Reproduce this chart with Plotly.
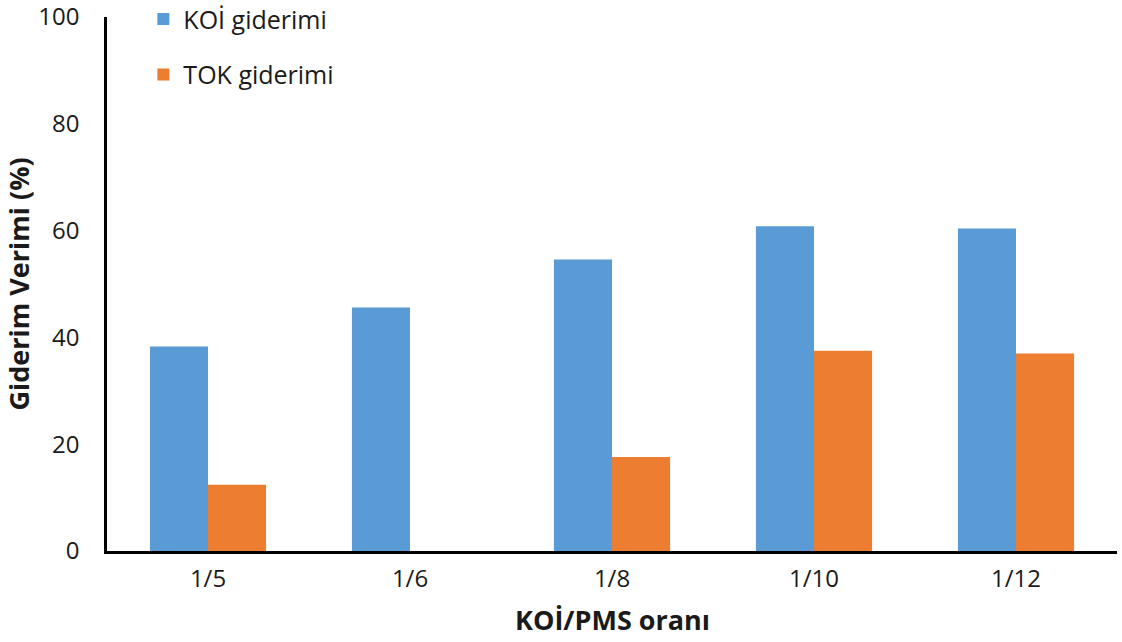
import plotly.graph_objects as go

# KOİ/PMS ratios and removal efficiencies (%)
oranlar = ["1/5", "1/6", "1/8", "1/10", "1/12"]
koi_giderimi = [38.3, 45.6, 54.6, 60.8, 60.4]
tok_giderimi = [12.4, None, 17.6, 37.5, 37.0]
y_ticks = [0, 20, 40, 60, 80, 100]

FONT = "Open Sans"
TXT = "#1a1a1a"

fig = go.Figure()
fig.add_trace(go.Bar(
    x=oranlar, y=koi_giderimi, name="KOİ giderimi",
    marker=dict(color="#5B9BD5", line=dict(width=0)),
    legendgroup="koi",
))
fig.add_trace(go.Bar(
    x=oranlar, y=tok_giderimi, name="TOK giderimi",
    marker=dict(color="#ED7D31", line=dict(width=0)),
    legendgroup="tok",
))

fig.update_layout(
    width=1122, height=642,
    margin=dict(l=107, r=5, t=17, b=91, autoexpand=False),
    paper_bgcolor="white", plot_bgcolor="white",
    barmode="group", bargap=0.425, bargroupgap=0,
    font=dict(family=FONT, size=24, color=TXT),
    showlegend=True,
    legend=dict(
        x=0.036, y=1.039, xanchor="left", yanchor="top",
        traceorder="grouped", tracegroupgap=20,
        font=dict(family=FONT, size=25, color=TXT),
        bgcolor="rgba(0,0,0,0)",
        itemwidth=30,
    ),
    xaxis=dict(
        showline=True, linecolor="black", linewidth=2.5,
        ticks="outside", ticklen=4, tickcolor="white",
        showgrid=False,
        tickfont=dict(family=FONT, size=24, color=TXT),
    ),
    yaxis=dict(
        range=[0, 100], tickvals=y_ticks,
        showline=True, linecolor="black", linewidth=2.5,
        ticks="outside", ticklen=20, tickcolor="white",
        ticklabeloverflow="allow",
        showgrid=False, zeroline=False,
        tickfont=dict(family=FONT, size=24, color=TXT),
        title=dict(text="<b>Giderim Verimi (%)</b>",
                   font=dict(family=FONT, size=27, color=TXT),
                   standoff=6),
    ),
    annotations=[dict(
        text="<b>KOİ/PMS oranı</b>",
        xref="paper", yref="paper", x=0.5, y=-0.129,
        xanchor="center", yanchor="middle", showarrow=False,
        font=dict(family=FONT, size=27, color=TXT),
    )],
)

fig.write_html("out.html")
